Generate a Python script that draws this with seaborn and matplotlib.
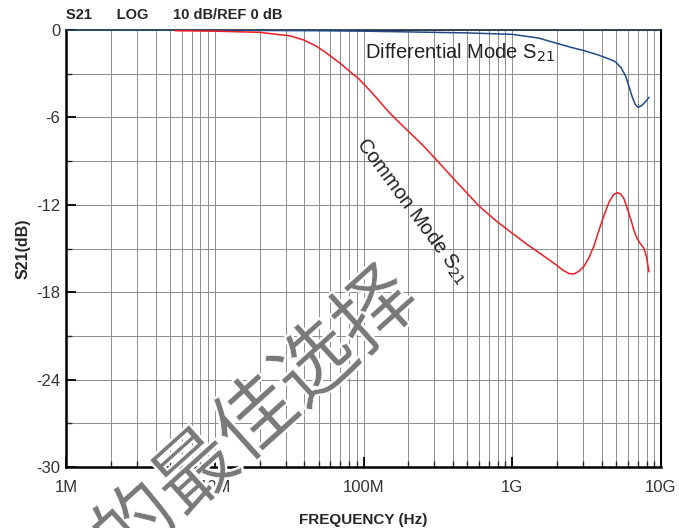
import numpy as np
import pandas as pd
import matplotlib
matplotlib.use("Agg")
import matplotlib.pyplot as plt
import matplotlib.ticker as mticker
import matplotlib.patheffects as pe
import seaborn as sns

# ---- data ----
diff_freq = [1e6, 1e7, 5e7, 1e8, 2e8, 5e8, 1e9, 1.5e9, 2e9, 2.5e9, 3e9, 3.8e9, 4.5e9,
             4.93e9, 5.4e9, 5.8e9, 6.1e9, 6.4e9, 6.7e9, 7.0e9, 7.4e9, 7.9e9, 8.3e9]
diff_db = [0.0, -0.02, -0.05, -0.08, -0.13, -0.2, -0.3, -0.55, -0.92, -1.2, -1.4, -1.72,
           -2.0, -2.17, -2.6, -3.2, -3.9, -4.58, -5.1, -5.3, -5.2, -4.9, -4.62]

cm_freq = [5.4e6, 1e7, 2e7, 3.2e7, 4e7, 4.8e7, 5.5e7, 6.2e7, 6.9e7, 8e7, 9.4e7, 1.15e8,
           1.5e8, 1.93e8, 2.5e8, 3.08e8, 4.2e8, 6e8, 8e8, 1e9, 1.25e9, 1.52e9, 1.96e9,
           2.2e9, 2.41e9, 2.6e9, 2.82e9, 3.05e9, 3.29e9, 3.55e9, 3.84e9, 4.15e9, 4.48e9,
           4.8e9, 5.09e9, 5.35e9, 5.65e9, 5.95e9, 6.27e9, 6.6e9, 6.94e9, 7.3e9, 7.69e9,
           8.0e9, 8.3e9]
cm_db = [-0.05, -0.08, -0.16, -0.4, -0.7, -1.1, -1.5, -1.9, -2.25, -2.8, -3.4, -4.35,
         -5.7, -6.8, -7.9, -8.9, -10.4, -12.1, -13.2, -13.95, -14.7, -15.3, -16.1,
         -16.5, -16.72, -16.75, -16.55, -16.2, -15.6, -14.8, -13.7, -12.7, -11.8,
         -11.3, -11.17, -11.25, -11.6, -12.3, -13.0, -13.8, -14.35, -14.7, -15.0,
         -15.6, -16.6]

x_ticks = [1e6, 1e7, 1e8, 1e9, 1e10]
x_labels = ["1M", "10M", "100M", "1G", "10G"]
y_ticks = [0, -6, -12, -18, -24, -30]
watermark = "的最佳选择"

sns.set_theme(style="white")
plt.rcParams['font.family'] = ['Liberation Sans', 'DejaVu Sans']
plt.rcParams['axes.unicode_minus'] = False

fig = plt.figure(figsize=(6.79, 5.28), dpi=100)
ax = fig.add_axes([66/679, 1-467/528, (661-66)/679, (467-30)/528])

df_d = pd.DataFrame({"f": diff_freq, "db": diff_db})
df_c = pd.DataFrame({"f": cm_freq, "db": cm_db})
sns.lineplot(data=df_d, x="f", y="db", ax=ax, color="#1f4a86", linewidth=1.1, zorder=3)
sns.lineplot(data=df_c, x="f", y="db", ax=ax, color="#ee1c24", linewidth=1.1, zorder=3)

ax.set_xscale("log")
ax.set_xlim(1e6, 1e10)
ax.set_ylim(-30, 0)

ax.xaxis.set_major_locator(mticker.FixedLocator(x_ticks))
ax.xaxis.set_major_formatter(mticker.FixedFormatter(x_labels))
ax.xaxis.set_minor_locator(mticker.LogLocator(base=10, subs=np.arange(2, 10), numticks=20))
ax.xaxis.set_minor_formatter(mticker.NullFormatter())
ax.yaxis.set_major_locator(mticker.FixedLocator(y_ticks))
ax.yaxis.set_minor_locator(mticker.MultipleLocator(3))

ax.grid(True, which="both", axis="both", color="#8c8c8c", linewidth=0.7)
ax.tick_params(axis="both", which="major", direction="in", length=7, width=1.3,
               labelsize=12, colors="black")
ax.tick_params(axis="x", which="major", pad=9)
ax.tick_params(axis="y", which="major", pad=4)
ax.tick_params(axis="both", which="minor", direction="in", length=4, width=1.0)
ax.tick_params(axis="y", which="both", left=True, right=False)
ax.tick_params(axis="x", which="both", bottom=True, top=False)
for lab in ax.get_xticklabels() + ax.get_yticklabels():
    lab.set_color("#333333")

for s in ["left", "bottom"]:
    ax.spines[s].set_linewidth(1.8)
    ax.spines[s].set_color("black")
ax.spines["right"].set_linewidth(1.5)
ax.spines["right"].set_color("black")
ax.spines["top"].set_linewidth(1.2)
ax.spines["top"].set_color("#1a2a3a")

ax.set_xlabel("FREQUENCY (Hz)", fontsize=11, fontweight="bold", labelpad=13)
ax.set_ylabel("S21(dB)", fontsize=11.5, fontweight="bold", labelpad=4)

fig.text(66/679, 1-15/528, "S21      LOG      10 dB/REF 0 dB", fontsize=10.5,
         fontweight="bold", ha="left", va="center")

ax.text(1.03e8, -2.0, "Differential Mode S$_{21}$", fontsize=14.5, color="#222222",
        ha="left", va="baseline", zorder=4)
ax.text(2.13e8, -12.4, "Common Mode S$_{21}$", fontsize=14.5, color="#222222",
        ha="center", va="center", rotation=-53.5, rotation_mode="anchor", zorder=4)

# watermark (gray glyphs with a thin white halo, slightly thinned by a white outline on top)
wm_kw = dict(fontsize=58, family=["Noto Sans CJK SC", "DejaVu Sans"], rotation=42,
             ha="center", va="center", rotation_mode="anchor")
wm_xy = (257/679, 1-420/528)
fig.text(*wm_xy, watermark, color="#7a7a7a", zorder=10,
         path_effects=[pe.withStroke(linewidth=3, foreground="white")], **wm_kw)
fig.text(*wm_xy, watermark, color="none", zorder=11,
         path_effects=[pe.Stroke(linewidth=0.4, foreground="white")], **wm_kw)

fig.savefig("out.png", dpi=100)
